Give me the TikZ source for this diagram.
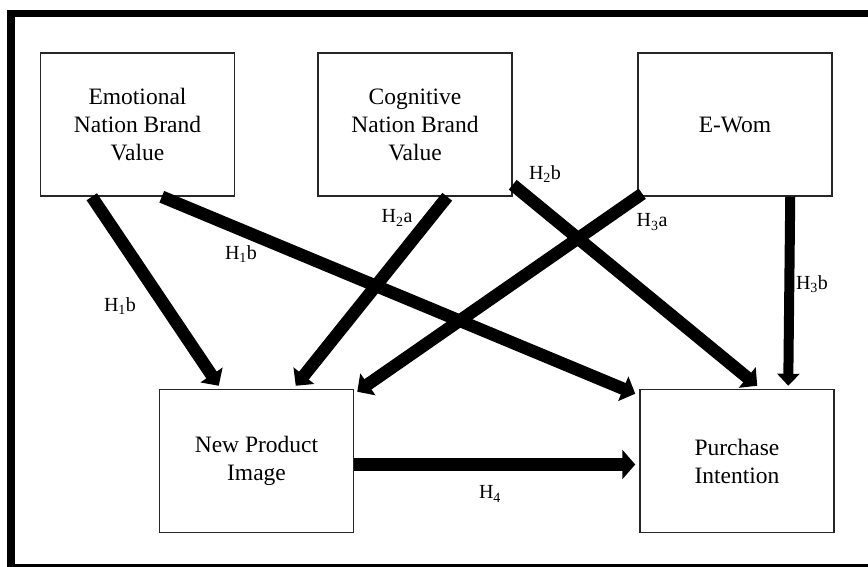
\documentclass[tikz,border=0pt]{standalone}
\usepackage{fontspec}
\setmainfont{Liberation Serif}
\usetikzlibrary{positioning, calc, arrows.meta}
\tikzset{
  construct/.style={draw=black!85,line width=1.5pt,fill=white,minimum width=194pt,minimum height=143pt,align=center,inner sep=2pt,font=\fontsize{23.5}{28}\selectfont},
  effect/.style={line width=12.5pt,-{Triangle[width=26pt,length=13pt]}},
  effectthin/.style={line width=10pt,-{Triangle[width=22pt,length=12pt]}},
  effectxl/.style={line width=13pt,-{Triangle[width=29pt,length=13pt]}},
  hyp/.style={font=\fontsize{20}{22}\selectfont,inner sep=0pt},
}

\begin{document}
\begin{tikzpicture}[x=1pt,y=-1pt]
	    \useasboundingbox (0,0) rectangle (868,567);
	    \clip (0,0) rectangle (868,567);
	    \draw[line width=7.5pt] (11,13.5) rectangle (880,567.5);
	    % constructs
	    \node[construct] (emo) at (137.5,124.5) {Emotional\\Nation Brand\\Value};
	    \node[construct,right=82pt of emo] (cog) {Cognitive\\Nation Brand\\Value};
	    \node[construct,right=124.5pt of cog] (ewom) {E-Wom};
	    \node[construct,below=192pt of emo,xshift=119pt] (npi) {New Product\\Image};
	    \node[construct,right=285pt of npi] (pi) {Purchase\\Intention};
	    % hypotheses
	    \draw[effect] ([xshift=52pt]emo.south west) -- ([xshift=60pt,yshift=3pt]npi.north west);
	    \draw[effect] ([xshift=122pt]emo.south west) -- ([xshift=-4pt,yshift=-5pt]pi.north west);
	    \draw[effect] ([xshift=130pt]cog.south west) -- ([xshift=137pt,yshift=3pt]npi.north west);
	    \draw[effect] ([yshift=12pt]cog.south east) -- ([xshift=118pt,yshift=3pt]pi.north west);
	    \draw[effect] ([xshift=5pt,yshift=3pt]ewom.south west) -- ([xshift=3pt,yshift=-3pt]npi.north east);
	    \draw[effectthin] ([xshift=153pt]ewom.south west) -- ([xshift=149pt,yshift=3pt]pi.north west);
	    \draw[effectxl] ([yshift=-3.5pt]npi.east) -- ([xshift=-4pt,yshift=-3.5pt]pi.west);
	    % labels
	    \node[hyp] (h1b-left) at (120,306) {H\textsubscript{1}b};
	    \node[hyp] (h1b-mid) at (241,254) {H\textsubscript{1}b};
	    \node[hyp] (h2a) at (397,218) {H\textsubscript{2}a};
	    \node[hyp] (h2b) at (545,174) {H\textsubscript{2}b};
	    \node[hyp] (h3a) at (652,222) {H\textsubscript{3}a};
	    \node[hyp] (h3b) at (812,284) {H\textsubscript{3}b};
	    \node[hyp] (h4) at (490,494) {H\textsubscript{4}};
	\end{tikzpicture}
\end{document}
